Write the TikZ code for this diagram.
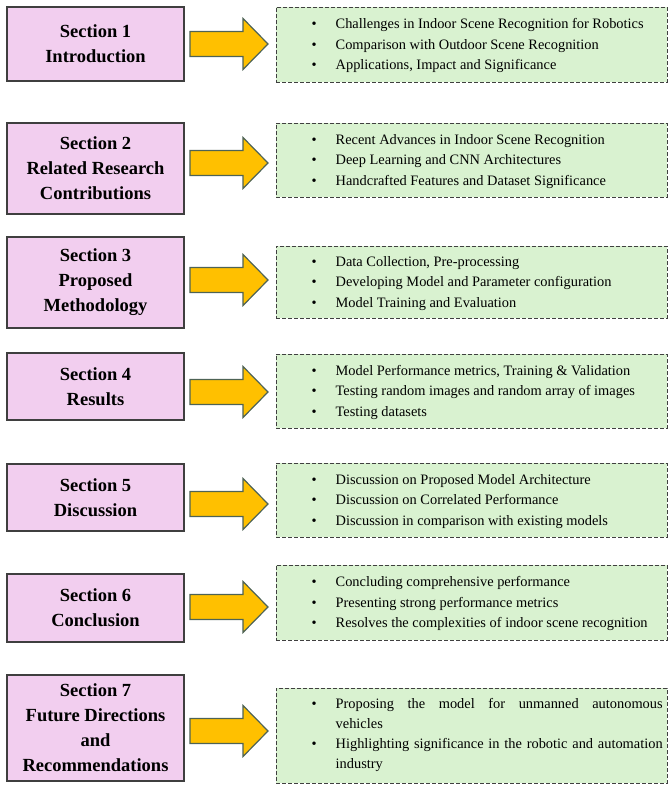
\documentclass[tikz,border=0pt]{standalone}
\usepackage{fontspec}
\setmainfont{Liberation Serif}
\definecolor{secfill}{HTML}{F2CEEF}
\definecolor{secborder}{HTML}{3F3F3F}
\definecolor{topicfill}{HTML}{D9F2D0}
\definecolor{topicborder}{HTML}{404040}
\definecolor{arrowfill}{HTML}{FFC000}
\definecolor{arrowborder}{HTML}{4E6355}
\newcommand{\itm}[1]{\par\noindent\hangindent=24pt\hangafter=1\makebox[24pt][l]{\textbullet}#1\par}
\newcommand{\blockarrow}[1]{\draw[arrowstyle] (#1) -- ++(-25,-25.5) -- ++(0,13) -- ++(-53,0) -- ++(0,25) -- ++(53,0) -- ++(0,13) -- cycle;}
\begin{document}
\begin{tikzpicture}[x=1pt,y=-1pt,
 secbox/.style={draw=secborder, line width=1.3pt, fill=secfill, minimum width=177pt, inner sep=0pt, align=center, font=\fontsize{18.5}{25}\selectfont\bfseries},
 topicbox/.style={draw=topicborder, dash pattern=on 4pt off 2pt, line width=1pt, fill=topicfill, minimum width=391pt, inner sep=0pt},
 topictext/.style={anchor=west, inner sep=0pt, text width=351pt, align=justify, yshift=4pt, font=\fontsize{14.4}{20.5}\selectfont},
 arrowstyle/.style={fill=arrowfill, draw=arrowborder, line width=1.2pt, line join=miter}]
\useasboundingbox (0,0) rectangle (670,785);

% Row 1
\node[secbox, minimum height=74pt] (s1) at (95.5,44) {Section 1\\Introduction};
\node[topicbox, minimum height=75pt] (g1) at (471.5,44.5) {};
\node[topictext] (l1) at (311.5,44.5) {\itm{Challenges in Indoor Scene Recognition for Robotics}\itm{Comparison with Outdoor Scene Recognition}\itm{Applications, Impact and Significance}};
\coordinate (a1) at (268,44);
\blockarrow{a1}

% Row 2
\node[secbox, minimum height=91pt] (s2) at (95.5,168.5) {Section 2\\Related Research\\Contributions};
\node[topicbox, minimum height=74pt] (g2) at (471.5,160) {};
\node[topictext] (l2) at (311.5,160) {\itm{Recent Advances in Indoor Scene Recognition}\itm{Deep Learning and CNN Architectures}\itm{Handcrafted Features and Dataset Significance}};
\coordinate (a2) at (268,163);
\blockarrow{a2}

% Row 3
\node[secbox, minimum height=91pt] (s3) at (95.5,282.5) {Section 3\\Proposed\\Methodology};
\node[topicbox, minimum height=72pt] (g3) at (471.5,282) {};
\node[topictext] (l3) at (311.5,282) {\itm{Data Collection, Pre-processing}\itm{Developing Model and Parameter configuration}\itm{Model Training and Evaluation}};
\coordinate (a3) at (268,280);
\blockarrow{a3}

% Row 4
\node[secbox, minimum height=67pt] (s4) at (95.5,386.5) {Section 4\\Results};
\node[topicbox, minimum height=74pt] (g4) at (471.5,391) {};
\node[topictext] (l4) at (311.5,391) {\itm{Model Performance metrics, Training \& Validation}\itm{Testing random images and random array of images}\itm{Testing datasets}};
\coordinate (a4) at (268,392);
\blockarrow{a4}

% Row 5
\node[secbox, minimum height=67pt] (s5) at (95.5,497.5) {Section 5\\Discussion};
\node[topicbox, minimum height=74pt] (g5) at (471.5,500) {};
\node[topictext] (l5) at (311.5,500) {\itm{Discussion on Proposed Model Architecture}\itm{Discussion on Correlated Performance}\itm{Discussion in comparison with existing models}};
\coordinate (a5) at (268,504);
\blockarrow{a5}

% Row 6
\node[secbox, minimum height=68pt] (s6) at (95.5,608) {Section 6\\Conclusion};
\node[topicbox, minimum height=75pt] (g6) at (471.5,602.5) {};
\node[topictext] (l6) at (311.5,602.5) {\itm{Concluding comprehensive performance}\itm{Presenting strong performance metrics}\itm{Resolves the complexities of indoor scene recognition}};
\coordinate (a6) at (268,607);
\blockarrow{a6}

% Row 7
\node[secbox, minimum height=106pt] (s7) at (95.5,728) {Section 7\\Future Directions\\and\\Recommendations};
\node[topicbox, minimum height=95pt] (g7) at (471.5,735.5) {};
\node[topictext, font=\fontsize{14.4}{20}\selectfont] (l7) at (311.5,734) {\itm{Proposing the model for unmanned autonomous\linebreak vehicles}\itm{Highlighting significance in the robotic and automation\linebreak industry}};
\coordinate (a7) at (268,731);
\blockarrow{a7}
\end{tikzpicture}
\end{document}
